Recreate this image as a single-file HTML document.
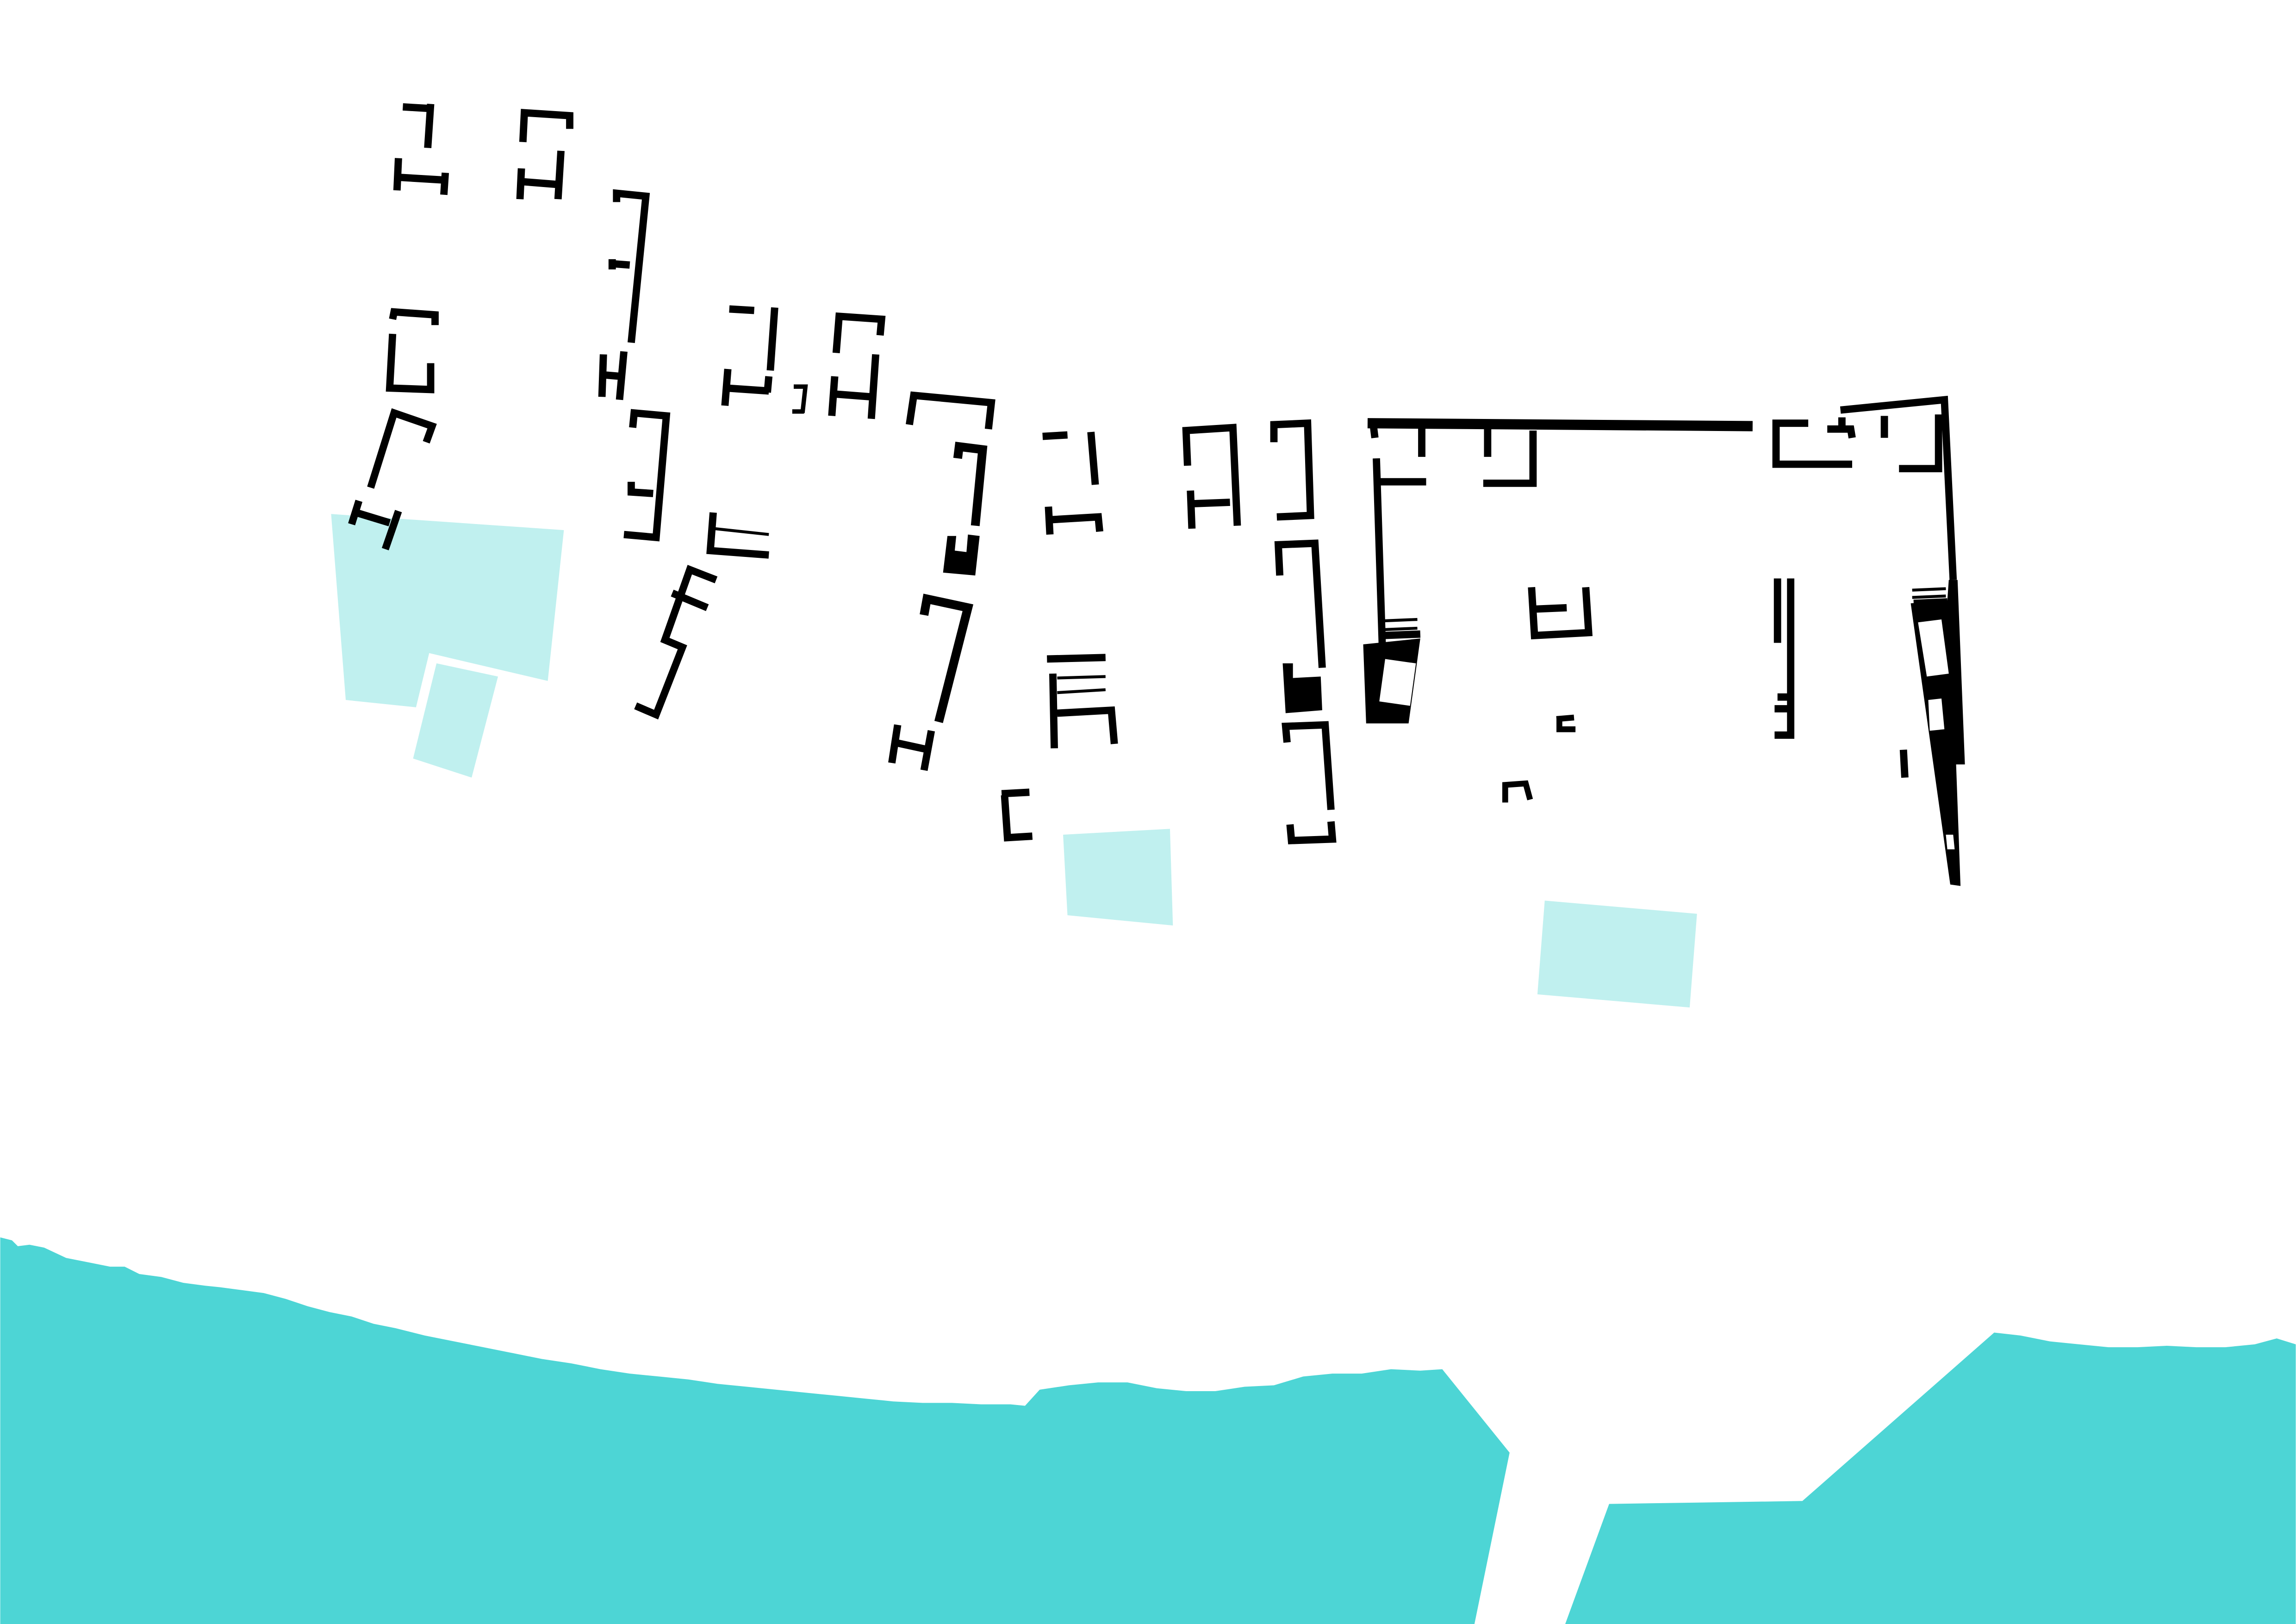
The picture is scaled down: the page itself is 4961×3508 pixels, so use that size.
<!DOCTYPE html>
<html><head><meta charset="utf-8"><style>
html,body{margin:0;padding:0;background:#fff}
svg{display:block}
</style></head><body>
<svg width="4961" height="3508" viewBox="0 0 1568 1109" xmlns="http://www.w3.org/2000/svg">
<rect width="1568" height="1109" fill="#fff"/>
<g fill="#c0f0ef">
<polygon points="226,351 385,362 374,465 293,446 284,483 236,478"/>
<polygon points="298,453 340,462 322,531 282,518"/>
<polygon points="726,570 799,566 801,632 729,625"/>
<polygon points="1055,615 1159,624 1154,688 1050,679"/>
</g>
<g fill="#4dd5d5">
<polygon points="0,845 8,847 12,851 20,850 30,852 45,859 60,862 75,865 85,865 95,870 110,872 125,876 140,878 150,879 165,881 180,883 195,887 210,892 225,896 240,899 255,904 270,907 290,912 310,916 330,920 350,924 370,928 390,931 410,935 430,938 450,940 470,942 490,945 510,947 530,949 550,951 570,953 590,955 610,957 630,958 650,958 670,959 690,959 700,960 710,949 730,946 750,944 770,944 790,948 810,950 830,950 850,947 870,946 890,940 910,938 930,938 950,935 970,936 985,935 1031,992 1007,1109 0,1109"/>
<polygon points="1069,1109 1099,1027 1231,1025 1362,910 1380,912 1400,916 1420,918 1440,920 1460,920 1480,919 1500,920 1520,920 1540,918 1555,914 1568,918 1568,1109"/>
</g>
<g fill="none" stroke="#000" stroke-width="5" stroke-linecap="butt" stroke-linejoin="miter">
<path d="M275,73 L292,74 M294,71 L292,101"/>
<path d="M357,97 L358,77 L389,79 L389,88"/>
<path d="M272,108 L271,130 M271,121 L304,123 M304,118 L303,133"/>
<path d="M356,115 L355,136 M356,124 L381,126 M383,103 L381,136"/>
<path d="M421,138 L421,132 L441,134 L431,234" />
<path d="M417,180 L430,181 M418,177 L418,184"/>
<path d="M412,242 L411,271 M412,256 L424,257 M426,240 L423,273"/>
<path d="M268,218 L269,213 L297,215 L297,222"/>
<path d="M268,228 L266,265 L294,266 L294,248"/>
<path d="M253,333 L269,282 L295,291 L291,302"/>
<path d="M245,342 L240,358 M243,350 L266,357 M272,349 L263,375"/>
<path d="M498,211 L515,212 M529,210 L526,253"/>
<path d="M497,252 L495,277 M496,265 L525,267 M525,257 L524,268"/>
<path d="M542,264 L550,264 L548,282 M541,281 L549,281" stroke-width="3"/>
<path d="M571,241 L573,216 L602,218 L601,229"/>
<path d="M570,257 L568,284 M569,269 L595,271 M598,242 L595,286"/>
<path d="M432,292 L433,282 L455,284 L448,367 L426,365"/>
<path d="M431,329 L431,336 L446,337"/>
<path d="M487,350 L485,376 L525,379"/>
<path d="M488,361 L525,365" stroke-width="2"/>
<path d="M621,290 L624,270 L677,275 L675,293"/>
<path d="M654,313 L655,305 L671,307 L666,359" stroke-width="6"/>
<polygon points="647,366 653,366 652,376 660,377 661,365 669,366 666,393 644,391" fill="#000" stroke="none"/>
<path d="M489,396 L471,389 L454,437 L466,442 L448,488 L434,482"/>
<path d="M459,405 L483,415"/>
<path d="M631,420 L633,409 L661,415 L641,493" stroke-width="6"/>
<path d="M613,495 L609,521 M611,507 L634,512 M636,499 L631,526"/>
<path d="M712,298 L729,297 M745,295 L748,331"/>
<path d="M716,346 L717,365 M716,355 L750,353 L751,363"/>
<path d="M715,450 L755,449"/>
<path d="M722,463 L755,462" stroke-width="2"/>
<path d="M722,473 L755,471" stroke-width="2"/>
<path d="M719,460 L720,511 M722,487 L759,485 L761,508"/>
<path d="M684,542 L703,541 M686,543 L688,572 L705,571"/>
<path d="M811,318 L810,294 L842,292 L845,359"/>
<path d="M813,335 L814,361 M814,344 L840,343"/>
<path d="M870,302 L870,290 L893,289 L895,352 L872,353"/>
<path d="M874,393 L873,372 L898,371 L903,456"/>
<polygon points="876,453 883,453 883,463 902,462 903,485 878,487" fill="#000" stroke="none"/>
<path d="M879,507 L878,496 L905,495 L909,553"/>
<path d="M881,563 L882,574 L910,573 L909,561"/>
<path d="M934,289 L1197,291" stroke-width="7"/>
<path d="M939,299 L938,291 M971,292 L971,312 M1016,292 L1016,312 M1047,294 L1047,330 L1013,330"/>
<path d="M940,313 L944,440 M941,329 L974,329"/>
<path d="M944,424 L968,423 M944,430 L968,429" stroke-width="2"/>
<path d="M944,434 L970,433"/>
<polygon points="931,440 970,436 962,494 933,494" fill="#000" stroke="none"/>
<polygon points="946,450 967,453 963,482 942,479" fill="#fff" stroke="none"/>
<path d="M1046,401 L1048,434 L1085,432 L1083,401 M1047,416 L1070,415"/>
<path d="M1063,491 L1075,490 M1065,489 L1065,498 L1076,498" stroke-width="4"/>
<path d="M1028,548 L1028,536 L1042,535 L1045,546" stroke-width="4"/>
<path d="M1213,309 L1213,289 L1235,289 M1213,298 L1213,317 L1265,317"/>
<path d="M1248,293 L1264,293 L1265,299 M1258,285 L1258,293 M1257,280 L1328,273 L1334,396 M1324,283 L1324,320 L1297,320 M1287,284 L1287,299"/>
<path d="M1306,403 L1329,402 M1306,408 L1329,407" stroke-width="2"/>
<path d="M1307,412 L1330,411"/>
<polygon points="1331,396 1337,396 1342,522 1336,522 1339,605 1332,604 1305,412 1330,410" fill="#000" stroke="none"/>
<g fill="#fff" stroke="none">
<polygon points="1310,425 1326,423 1331,460 1316,462"/>
<polygon points="1317,478 1326,477 1328,498 1318,499"/>
<polygon points="1329,570 1334,570 1335,580 1330,580"/>
</g>
<path d="M1214,395 L1214,439 M1223,395 L1223,502 L1212,502 M1214,476 L1223,476 M1212,484 L1223,484"/>
<path d="M1300,512 L1301,531"/>
</g>
</svg>
</body></html>
